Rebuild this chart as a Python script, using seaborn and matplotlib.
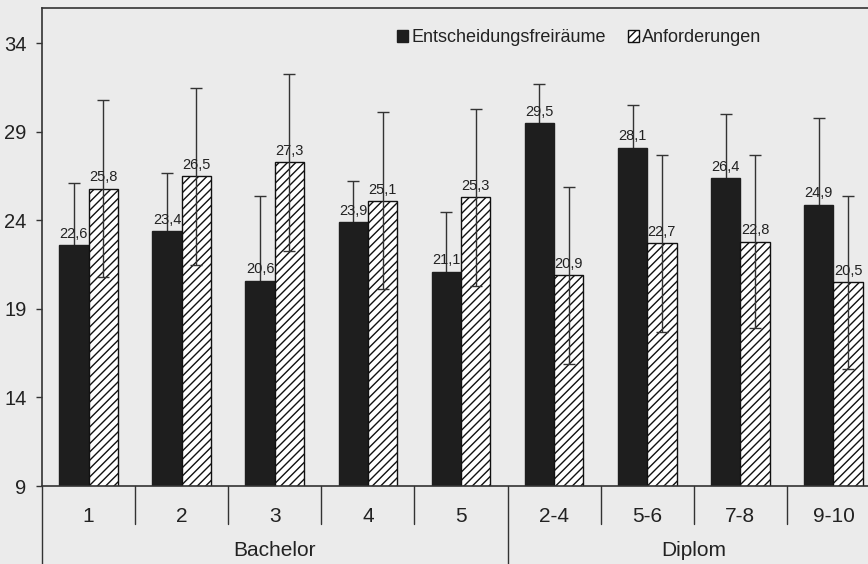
import pandas as pd
import seaborn as sns
import matplotlib.pyplot as plt

### Werte
kategorien = ["1", "2", "3", "4", "5", "2-4", "5-6", "7-8", "9-10"]
gruppen = ["Bachelor", "Diplom"]
gruppen_anzahl = [5, 4]  # Kategorien je Gruppe

entscheidung = [22.6, 23.4, 20.6, 23.9, 21.1, 29.5, 28.1, 26.4, 24.9]
entscheidung_sd = [3.5, 3.3, 4.8, 2.3, 3.4, 2.2, 2.4, 3.6, 4.9]
anforderung = [25.8, 26.5, 27.3, 25.1, 25.3, 20.9, 22.7, 22.8, 20.5]
anforderung_sd = [5.0, 5.0, 5.0, 5.0, 5.0, 5.0, 5.0, 4.9, 4.9]

serien = ["Entscheidungsfreiräume", "Anforderungen"]
y_ticks = [9, 14, 19, 24, 29, 34]

df = pd.DataFrame({
    "kat": kategorien * 2,
    "wert": entscheidung + anforderung,
    "serie": [serien[0]] * len(kategorien) + [serien[1]] * len(kategorien),
})

sns.set_style("white")
plt.rcParams["font.family"] = ["Liberation Sans", "DejaVu Sans"]
plt.rcParams["hatch.linewidth"] = 1.0

bg = "#ebebeb"
ink = "#222222"

W, H = 868, 564
fig = plt.figure(figsize=(W / 100, H / 100), dpi=100, facecolor=bg)
ax = fig.add_axes([42 / W, (H - 486) / H, (880 - 42) / W, (486 - 8) / H])
ax.set_facecolor(bg)

sns.barplot(data=df, x="kat", y="wert", hue="serie", order=kategorien,
            hue_order=serien, palette=["#1e1e1e", "white"], width=0.63,
            saturation=1, errorbar=None, ax=ax, legend=False)

### zweite Serie schraffiert
for p in ax.containers[1]:
    p.set_facecolor("white")
    p.set_edgecolor("#111111")
    p.set_hatch("////")
    p.set_linewidth(1.0)
    p.set_zorder(2)
for p in ax.containers[0]:
    p.set_edgecolor("#1e1e1e")
    p.set_zorder(2)

### Fehlerbalken und Werte (bei den dunklen Balken unter dem Balken)
for cont, werte, sd, z in [(ax.containers[0], entscheidung, entscheidung_sd, 1),
                           (ax.containers[1], anforderung, anforderung_sd, 3)]:
    xs = [p.get_x() + p.get_width() / 2 for p in cont]
    ax.errorbar(xs, werte, yerr=sd, fmt="none", ecolor="#333333",
                elinewidth=1, capsize=4, capthick=1, zorder=z)
    for x, v in zip(xs, werte):
        ax.text(x, v + 0.25, f"{v:.1f}".replace(".", ","), ha="center",
                va="bottom", fontsize=10.5, color=ink, zorder=4)

ax.set_ylim(9, 36)
ax.set_xlim(-0.5, len(kategorien) - 0.5)
ax.set_yticks(y_ticks)
ax.set_yticklabels([str(t) for t in y_ticks], fontsize=14.5, color=ink)
ax.tick_params(axis="y", direction="out", length=4, width=1, pad=7,
               colors="#333333", left=True)
ax.tick_params(axis="y", labelcolor=ink)
ax.set_xticks(range(len(kategorien)))
ax.set_xticklabels(kategorien, fontsize=15, color=ink)
ax.tick_params(axis="x", length=0, pad=15)
ax.set_xlabel("")
ax.set_ylabel("")

for s in ["top", "left", "bottom"]:
    ax.spines[s].set_color("#333333")
    ax.spines[s].set_linewidth(1.2)
ax.spines["right"].set_visible(False)

### Trennlinien der Kategorienachse
tr = ax.get_xaxis_transform()
h_kurz = -38 / 478
h_lang = -80 / 478
for i in range(len(kategorien)):
    b = i - 0.5
    lang = b == -0.5 or b == gruppen_anzahl[0] - 0.5
    ax.plot([b, b], [0, h_lang if lang else h_kurz], transform=tr,
            color="#333333", lw=1, clip_on=False)

start = -0.5
for g, n in zip(gruppen, gruppen_anzahl):
    ax.text(start + n / 2, -64 / 478, g, transform=tr, ha="center",
            va="center", fontsize=15, color=ink)
    start += n

### Legende
ax.legend(handles=[ax.containers[0][0], ax.containers[1][0]], labels=serien,
          ncol=2, frameon=False, fontsize=13, handlelength=0.6,
          handleheight=0.6, handletextpad=0.2, columnspacing=1.2,
          loc="center left", bbox_to_anchor=((381 - 42) / 838, 1 - 30 / 478),
          labelcolor=ink)

fig.savefig("out.png", dpi=100, facecolor=bg)
